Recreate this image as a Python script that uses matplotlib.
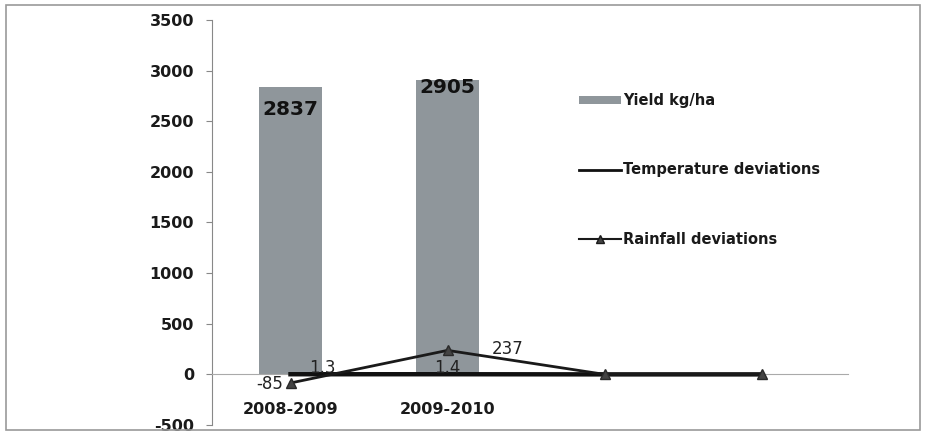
import matplotlib
matplotlib.use("Agg")
import matplotlib.pyplot as plt
from matplotlib.patches import Rectangle
from matplotlib.lines import Line2D
from matplotlib.patches import Patch

plt.rcParams['font.family'] = ['DejaVu Sans']

categories = ["2008-2009", "2009-2010", "", ""]
yield_vals = [2837, 2905, None, None]
temp_dev = [1.3, 1.4, 0, 0]
rain_dev = [-85, 237, 0, 0]
yield_labels = ["2837", "2905"]
temp_labels = ["1.3", "1.4"]
rain_labels = ["-85", "237"]
yticks = [-500, 0, 500, 1000, 1500, 2000, 2500, 3000, 3500]

fig = plt.figure(figsize=(9.26, 4.36), dpi=100)
fig.patches.append(Rectangle((6/926, 6/436), 914/926, 425/436, transform=fig.transFigure,
                             fill=False, edgecolor='#9a9a9a', linewidth=1.2))
ax = fig.add_axes([212/926, 1-425/436, 628/926, 405/436])

x = list(range(len(categories)))
bx = [i for i, v in enumerate(yield_vals) if v is not None]
bv = [v for v in yield_vals if v is not None]
ax.bar(bx, bv, width=0.4, color='#8f969b', zorder=2)
ax.plot(x, temp_dev, color='#111111', linewidth=3.2, zorder=3)
ax.plot(x, rain_dev, color='#1a1a1a', linewidth=2.0, marker='^', markersize=6.5,
        markerfacecolor='#444444', markeredgecolor='#2a2a2a', zorder=4)

ax.set_xlim(-0.5, 3.5)
ax.set_ylim(-500, 3500)
ax.set_yticks(yticks)
ax.set_yticklabels([str(t) for t in yticks], fontsize=11.5, fontweight='bold', color='#1a1a1a')
ax.tick_params(axis='y', length=4, color='#888888', pad=9)

ax.spines['top'].set_visible(False)
ax.spines['right'].set_visible(False)
ax.spines['left'].set_color('#888888')
ax.spines['bottom'].set_position(('data', 0))
ax.spines['bottom'].set_color('#aaaaaa')
ax.spines['bottom'].set_bounds(-0.5, 3.55)
ax.set_xticks(x)
ax.set_xticklabels(categories, fontsize=11.5, fontweight='bold', color='#1a1a1a')
ax.tick_params(axis='x', length=0, pad=20)

# bar labels
ax.text(bx[0], bv[0] - 220, yield_labels[0], ha='center', va='center', fontsize=14.5,
        fontweight='bold', color='#111111', zorder=5)
ax.text(bx[1], bv[1] - 70, yield_labels[1], ha='center', va='center', fontsize=14.5,
        fontweight='bold', color='#111111', zorder=5)
# line labels
ax.text(0.12, temp_dev[0] + 60, temp_labels[0], ha='left', va='center', fontsize=12, color='#222222', zorder=5)
ax.text(1.0, temp_dev[1] + 60, temp_labels[1], ha='center', va='center', fontsize=12, color='#222222', zorder=5)
ax.text(-0.05, rain_dev[0] - 10, rain_labels[0], ha='right', va='center', fontsize=12, color='#222222', zorder=5)
ax.text(1.28, rain_dev[1] + 10, rain_labels[1], ha='left', va='center', fontsize=12, color='#222222', zorder=5)

handles = [Patch(facecolor='#8f969b', edgecolor='none'),
           Line2D([], [], color='#111111', linewidth=2),
           Line2D([], [], color='#1a1a1a', linewidth=1.5, marker='^', markersize=6,
                  markerfacecolor='#444444')]
leg = fig.legend(handles, ["Yield kg/ha", "Temperature deviations", "Rainfall deviations"],
                 loc='upper left', bbox_to_anchor=(566/926, 1-80/436), frameon=False,
                 prop={'size': 10.5, 'weight': 'bold'}, labelspacing=3.72,
                 handlelength=2.9, handletextpad=0.1, handleheight=0.55)
for t in leg.get_texts():
    t.set_color('#1a1a1a')

fig.savefig("out.png", dpi=100)
